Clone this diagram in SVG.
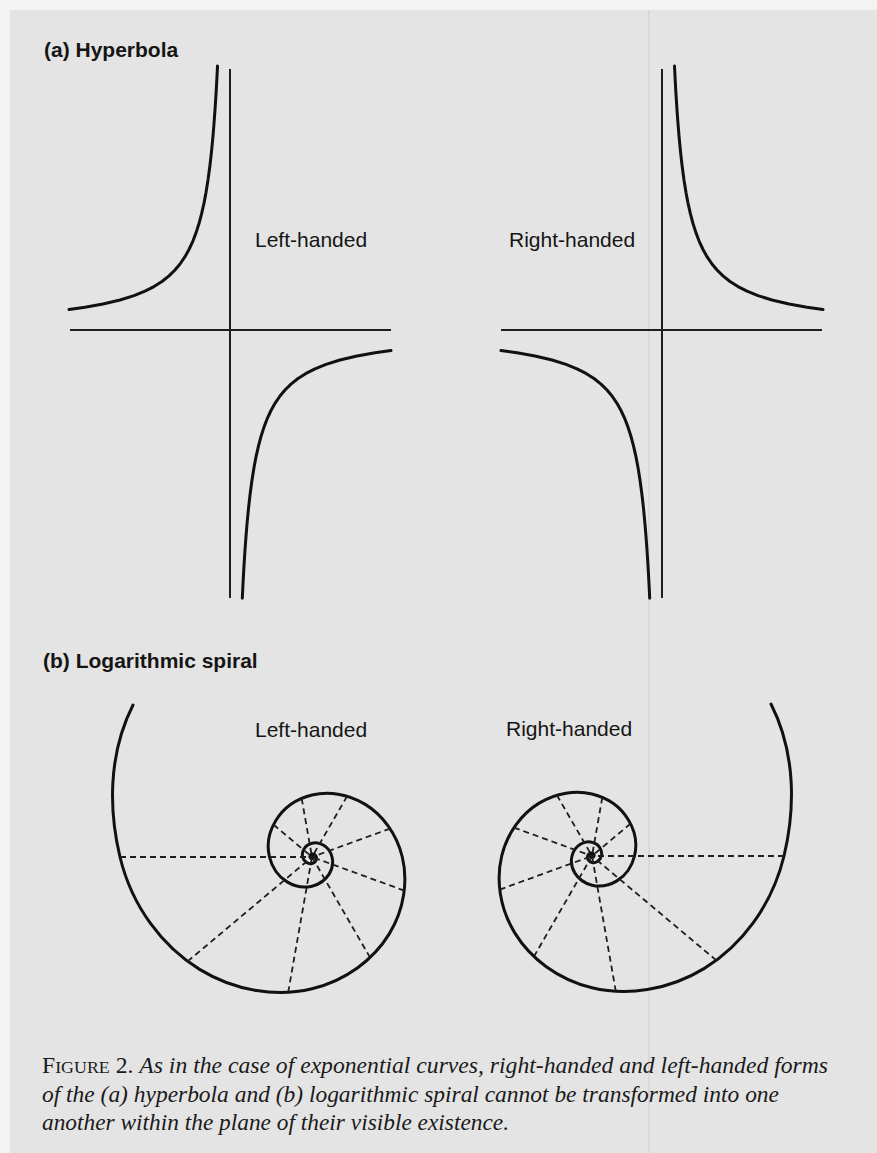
<svg xmlns="http://www.w3.org/2000/svg" width="877" height="1153" viewBox="0 0 877 1153">
<defs>
<style>
.axis{fill:none;stroke:#1e1e1e;stroke-width:2}
.curve{fill:none;stroke:#111;stroke-width:3;stroke-linecap:round;stroke-linejoin:round}
.ray{fill:none;stroke:#1e1e1e;stroke-width:1.8;stroke-dasharray:6 4}
.head{font-family:"Liberation Sans",Arial,sans-serif;font-weight:bold;font-size:21px;fill:#151515}
.lbl{font-family:"Liberation Sans",Arial,sans-serif;font-size:21px;fill:#151515}
.cap{font-family:"Liberation Serif","Times New Roman",serif;font-size:22.5px;fill:#1a1a1a}
</style>
<g id="hyp">
<line class="axis" x1="230" y1="69" x2="230" y2="598"/>
<line class="axis" x1="70" y1="330" x2="391" y2="330"/>
<polyline class="curve" points="217.5,66 217,76.2 216.5,85.6 216,94.3 215,110 214,123.7 213,135.9 211.5,151.6 210,165 208,180 206,192.5 204,203.1 201.5,214.2 199,223.5 196,232.9 193,240.8 189,249.5 185,256.7 180,264 175,270 169,275.9 162,281.5 154,286.6 145,291.2 134,295.6 120,300 103,304 85,307.2 69,309.5"/>
<polyline class="curve" points="242.3,598.3 243,583.8 243.5,574.4 244,565.7 245,550 246,536.3 247,524.1 248.5,508.4 250,495 252,480 254,467.5 256,456.9 258.5,445.8 261,436.5 264,427.1 267,419.2 271,410.5 275,403.3 280,396 285,390 291,384.1 298,378.5 306,373.4 315,368.8 326,364.4 340,360 357,356 375,352.8 391,350.5"/>
</g>
<g id="spiralshape">
<path class="curve" d="M -179,-152 C -204.6,-101.4 -202.8,-45.0 -192,0 C -179.9,50.3 -148.9,90.0 -112.4,112.4 C -75.9,134.8 -34.5,140.0 0,131.7 C 34.5,123.4 61.7,102.1 77.1,77.1 C 92.5,52.1 96.0,23.6 90.3,0 C 84.6,-23.6 70.1,-42.4 52.9,-52.9 C 35.7,-63.4 16.2,-65.9 0,-62 C -16.2,-58.1 -29.1,-48.1 -36.3,-36.3 C -43.5,-24.5 -45.2,-11.1 -42.5,0 C -39.8,11.1 -33.0,19.9 -24.9,24.9 C -16.8,29.8 -7.6,31.0 0,29.2 C 7.6,27.3 13.7,22.6 17.1,17.1 C 20.5,11.5 21.3,5.2 20.0,0 C 18.7,-5.2 15.5,-9.4 11.7,-11.7 C 7.9,-14.0 3.6,-14.6 0,-13.7 C -3.6,-12.9 -6.4,-10.6 -8.0,-8.0 C -9.6,-5.4 -10.0,-2.5 -9.4,0 C -8.8,2.5 -7.3,4.4 -5.5,5.5 C -3.7,6.6 -1.7,6.9 0,6.5 C 1.7,6.0 3.0,5.0 3.8,3.8 C 4.5,2.6 4.7,1.2 4.4,0 C 4.1,-1.2 3.4,-2.1 2.6,-2.6 C 1.7,-3.1 0.8,-3.2 0,-3.0 C -0.8,-2.8 -1.4,-2.3 -1.8,-1.8 C -2.1,-1.2 -2.2,-0.5 -2.1,0"/>
<circle cx="0" cy="0" r="3" fill="#111"/>
<g class="ray">
<line x1="-192" y1="0" x2="0" y2="0"/>
<line x1="-124.4" y1="104.4" x2="0" y2="0"/>
<line x1="-23.8" y1="135.2" x2="0" y2="0"/>
<line x1="58.1" y1="100.6" x2="0" y2="0"/>
<line x1="92.3" y1="33.6" x2="0" y2="0"/>
<line x1="78.1" y1="-28.4" x2="0" y2="0"/>
<line x1="35.1" y1="-60.8" x2="0" y2="0"/>
<line x1="-10.3" y1="-58.5" x2="0" y2="0"/>
<line x1="-38.5" y1="-32.3" x2="0" y2="0"/>
</g>
</g>
</defs>
<rect x="0" y="0" width="877" height="1153" fill="#f3f3f3"/>
<rect x="10" y="10" width="867" height="1143" fill="#e4e4e4"/>
<line x1="649" y1="10" x2="649" y2="1153" stroke="#cdcdcd" stroke-width="1"/>

<g id="title-a"><text class="head" x="44" y="57">(a) Hyperbola</text></g>
<g id="hyperbola-left"><use href="#hyp"/><text class="lbl" x="255" y="247">Left-handed</text></g>
<g id="hyperbola-right"><use href="#hyp" transform="translate(892,0) scale(-1,1)"/><text class="lbl" x="509" y="247">Right-handed</text></g>

<g id="title-b"><text class="head" x="43" y="668">(b) Logarithmic spiral</text></g>
<g id="spiral-left"><use href="#spiralshape" transform="translate(312,857)"/><text class="lbl" x="255" y="737">Left-handed</text></g>
<g id="spiral-right"><use href="#spiralshape" transform="translate(592,856) scale(-1,1)"/><text class="lbl" x="506" y="736">Right-handed</text></g>

<g id="connectors"></g>

<g id="caption" class="cap">
<text x="42" y="1073" textLength="786" lengthAdjust="spacingAndGlyphs">F<tspan font-size="17">IGURE</tspan> 2. <tspan font-style="italic">As in the case of exponential curves, right-handed and left-handed forms</tspan></text>
<text x="42" y="1102" textLength="737" lengthAdjust="spacingAndGlyphs" font-style="italic">of the (a) hyperbola and (b) logarithmic spiral cannot be transformed into one</text>
<text x="42" y="1130" textLength="467" lengthAdjust="spacingAndGlyphs" font-style="italic">another within the plane of their visible existence.</text>
</g>
</svg>
